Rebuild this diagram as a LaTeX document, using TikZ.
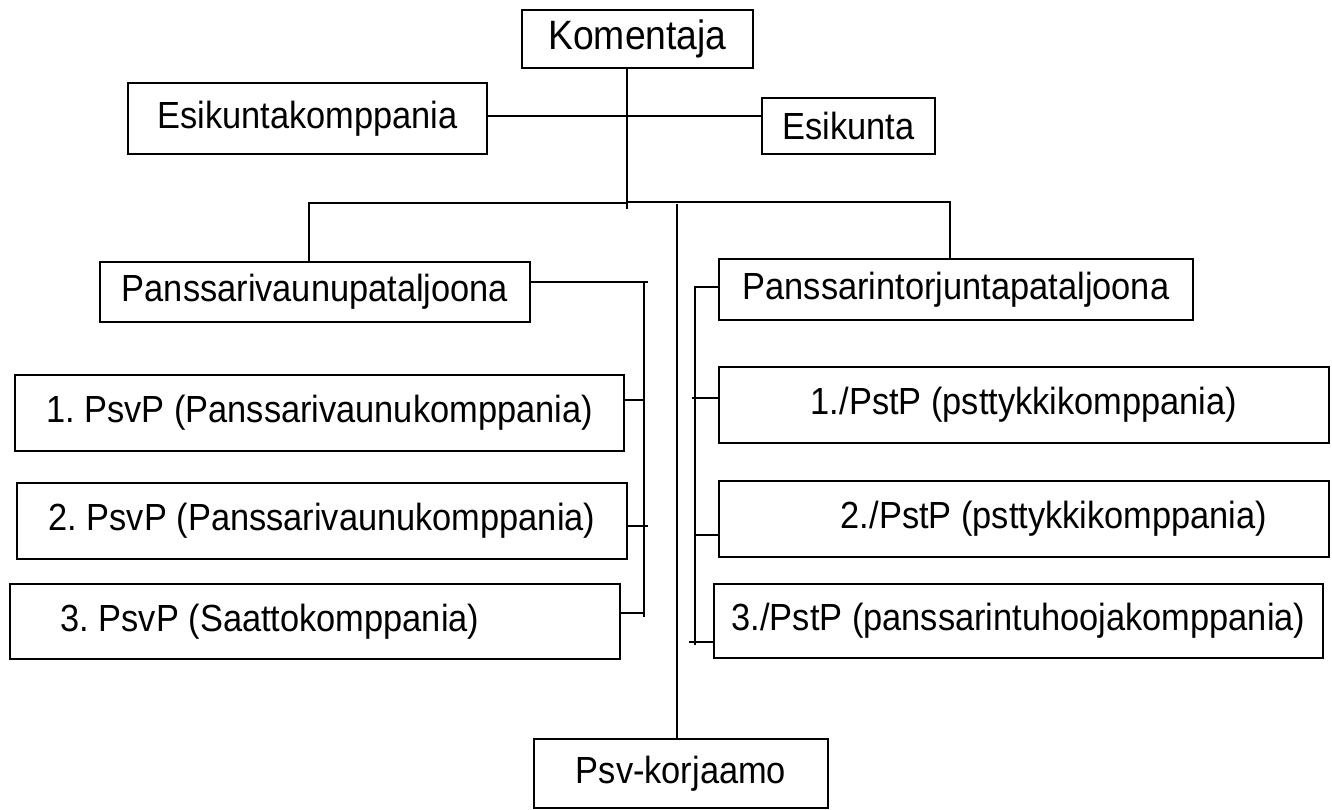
\documentclass[tikz,border=0pt]{standalone}
\usepackage{fontspec}
\setmainfont{Liberation Sans}[FakeStretch=0.91]
\frenchspacing

\begin{document}
\begin{tikzpicture}[x=1pt, y=-1pt, line width=1.5pt]

      \tikzset{unit/.style={draw, line width=1.5pt, inner sep=0pt, font=\fontsize{37.8pt}{42pt}\selectfont}}
      \useasboundingbox (0,0) rectangle (1332,810);
%% Units
      	\node[unit, minimum width=231pt, minimum height=58pt, font=\fontsize{41pt}{46pt}\selectfont] (kom) at (637.5,39) {Komentaja};
      	\node[unit, minimum width=359pt, minimum height=71pt] (ekk) at (307.5,118.5) {Esikuntakomppania};
      	\node[unit, minimum width=173pt, minimum height=56pt] (ek) at (848.5,126) {Esikunta};
      	\node[unit, minimum width=430pt, minimum height=60pt] (pvp) at (315,292) {Panssarivaunupataljoona};
      	\node[unit, minimum width=474pt, minimum height=61pt] (ptp) at (956,289.5) {Panssarintorjuntapataljoona};
      	\node[unit, minimum width=609pt, minimum height=76pt] (pv1) at (319.5,413) {1. PsvP (Panssarivaunukomppania)};
      	\node[unit, minimum width=610pt, minimum height=76pt] (pv2) at (322,521) {2. PsvP (Panssarivaunukomppania)};
      	\node[unit, minimum width=610pt, minimum height=75pt] (pv3) at (315,621.5) {3. PsvP (Saattokomppania)\hspace*{90pt}};
      	\node[unit, minimum width=610pt, minimum height=76pt] (pt1) at (1024,405) {1./PstP (psttykkikomppania)};
      	\node[unit, minimum width=610pt, minimum height=76pt] (pt2) at (1024,519) {\hspace*{60pt}2./PstP (psttykkikomppania)};
      	\node[unit, minimum width=609pt, minimum height=74pt] (pt3) at (1018.5,621) {3./PstP (panssarintuhoojakomppania)};
      	\node[unit, minimum width=294pt, minimum height=69pt] (kor) at (681,773.5) {Psv-korjaamo};
%% Junctions
      	\coordinate (top) at (627,209);
      	\coordinate (staff) at (627,116);
      	\coordinate (busl) at (309,203);
      	\coordinate (busr) at (950,202);
      	\coordinate (rep) at (677,204);
      	\coordinate (lbt) at (644,282);
      	\coordinate (lbe) at (648,282);
      	\coordinate (lbb) at (644,617);
      	\coordinate (l1) at (644,400);
      	\coordinate (l2) at (648,526);
      	\coordinate (l3) at (644,613);
      	\coordinate (rbt) at (695,287);
      	\coordinate (rbb) at (695,645);
      	\coordinate (r1) at (692,398);
      	\coordinate (r2) at (695,535);
      	\coordinate (r3) at (689,642);
%% Lines
		\draw (kom.south -| top) -- (top);
		\draw (ekk.east |- staff) -- (ek.west |- staff);
		\draw (busl |- pvp.north) -- (busl) -- (busl -| top);
		\draw (busr -| top) -- (busr) -- (busr |- ptp.north);
		\draw (rep) -- (rep |- kor.north);
		\draw (pvp.east |- lbe) -- (lbe);
		\draw (lbt) -- (lbb);
		\draw (pv1.east |- l1) -- (l1);
		\draw (pv2.east |- l2) -- (l2);
		\draw (pv3.east |- l3) -- (l3);
		\draw (ptp.west |- rbt) -- (rbt) -- (rbb);
		\draw (r1) -- (r1 -| pt1.west);
		\draw (r2) -- (r2 -| pt2.west);
		\draw (r3) -- (r3 -| pt3.west);

	\end{tikzpicture}
\end{document}
